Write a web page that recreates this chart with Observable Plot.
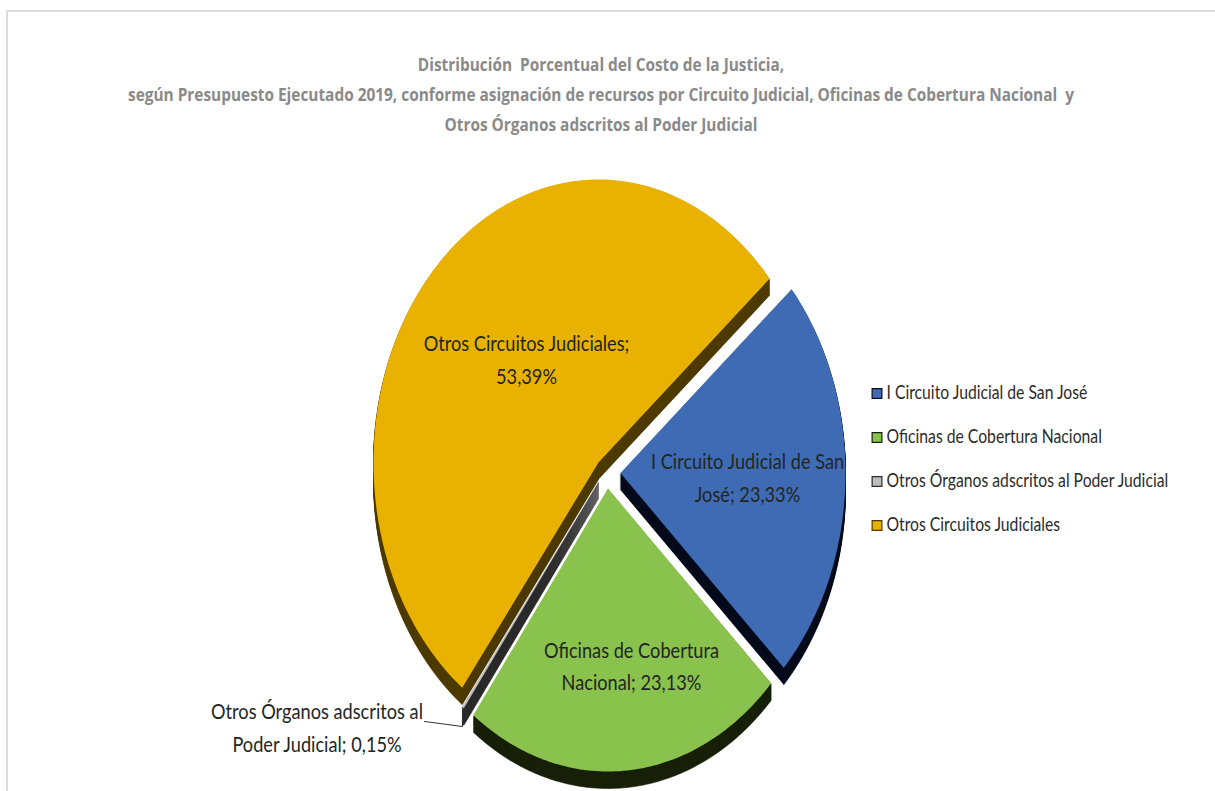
<!DOCTYPE html>
<html lang="es">
<head>
<meta charset="utf-8">
<script src="https://cdn.jsdelivr.net/npm/d3@7"></script>
<script src="https://cdn.jsdelivr.net/npm/@observablehq/plot@0.6"></script>
<style>
  html, body { margin: 0; padding: 0; background: #fff; overflow: hidden; }
  #frame { position: absolute; left: 6px; top: 10px; right: -4px; bottom: -4px;
           border: 2px solid #dcdcdc; pointer-events: none; }
  #title { height: 140px; box-sizing: border-box; padding-top: 49px; width: 1202px;
           text-align: center; font: 700 18px/30px "Open Sans", sans-serif; color: #8a8a8a; white-space: pre;
           transform: scaleX(0.855); }
  #chart svg { display: block; }
</style>
</head>
<body>
<div id="frame"></div>
<div id="title">Distribución  Porcentual del Costo de la Justicia,
según Presupuesto Ejecutado 2019, conforme asignación de recursos por Circuito Judicial, Oficinas de Cobertura Nacional  y
Otros Órganos adscritos al Poder Judicial</div>
<div id="chart"></div>
<script>
// Data
const categories = ["I Circuito Judicial de San José", "Oficinas de Cobertura Nacional",
  "Otros Órganos adscritos al Poder Judicial", "Otros Circuitos Judiciales"];
const shares = [23.33, 23.13, 0.15, 53.39];
const labels = ["I Circuito Judicial de San\nJosé; 23,33%", "Oficinas de Cobertura\nNacional; 23,13%",
  "Otros Órganos adscritos al\nPoder Judicial; 0,15%", "Otros Circuitos Judiciales;\n53,39%"];

// Styling and layout of the exploded, tilted pie
const faceColors = ["#3f6bb5", "#8ac24e", "#bdbdbd", "#eab200"];
const wallColors = ["#050b1a", "#182009", "#2b2b2b", "#4d3b00"];
const centersX = [620, 607.5, 598, 598];
const centersY = [472.5, 488, 481, 462];
const radiusX = 225, radiusY = 283, depth = 17, firstAngle = 49.5;
const labelX = [747, 631, 316.5, 526];
const labelY = [474.5, 663, 724.5, 356.5];
const legendY = [393, 437, 481, 525];
const leaderX = [424, 462, 462];
const leaderY = [721, 726, 710];
const labelWidthTarget = 212, legendWidthTarget = 282; // width of the longest text of each group

// Slice outlines derived from the shares
const total = d3.sum(shares);
const outline = (i, from, to, dy) => {
  const pts = [[centersX[i], centersY[i] + dy]];
  const n = Math.max(2, Math.ceil(to - from));
  for (let k = 0; k <= n; ++k) {
    const a = (from + (to - from) * k / n) * Math.PI / 180;
    pts.push([centersX[i] + radiusX * Math.sin(a), centersY[i] - radiusY * Math.cos(a) + dy]);
  }
  return pts;
};
let cursor = firstAngle;
const spans = shares.map(s => { const from = cursor; cursor += s / total * 360; return [from, cursor]; });
const wallRows = [], faceRows = [];
categories.forEach((c, i) => {
  for (let dy = depth; dy >= 1; --dy)
    outline(i, spans[i][0], spans[i][1], dy).forEach(([x, y]) => wallRows.push({x, y, key: c + dy, color: wallColors[i]}));
  outline(i, spans[i][0], spans[i][1], 0).forEach(([x, y]) => faceRows.push({x, y, key: c, color: faceColors[i]}));
});
const legendRows = categories.map((c, i) => ({c, y: legendY[i], fill: faceColors[i], stroke: wallColors[i]}));
const labelRows = labels.map((t, i) => ({t, x: labelX[i], y: labelY[i]}));
const leaderRows = leaderX.map((x, i) => ({x, y: leaderY[i]}));

const font = 'Lato, "Liberation Sans", sans-serif';
const plot = Plot.plot({
  width: 1215, height: 651,
  margin: 0,
  x: {domain: [0, 1215], range: [0, 1215], axis: null},
  y: {domain: [140, 791], range: [0, 651], axis: null},
  color: {type: "identity"},
  marks: [
    Plot.line(wallRows, {x: "x", y: "y", z: "key", fill: "color", stroke: "color", strokeWidth: 0.6}),
    Plot.line(faceRows, {x: "x", y: "y", z: "key", fill: "color", stroke: "none"}),
    Plot.line(leaderRows, {x: "x", y: "y", stroke: "#333", strokeWidth: 1}),
    Plot.text(labelRows, {x: "x", y: "y", text: "t", lineHeight: 1.6, fontSize: 20.5,
      fontFamily: font, fill: "#22261e", textAnchor: "middle"}),
    Plot.dot(legendRows, {x: () => 876.5, y: "y", symbol: "square", r: 5.5, fill: "fill", stroke: "stroke", strokeWidth: 1.2}),
    Plot.text(legendRows, {x: () => 886, y: "y", text: "c", fontSize: 18.5,
      fontFamily: font, fill: "#2b2b2b", textAnchor: "start"})
  ]
});
document.getElementById("chart").append(plot);

// Condense the text horizontally so that it has the reference's narrow proportions
const narrow = (group, target) => {
  const texts = [...group.querySelectorAll("text")];
  const widest = d3.max(texts, t => t.getBBox().width);
  const k = target / widest;
  texts.forEach(t => t.setAttribute("transform", `${t.getAttribute("transform") || ""} scale(${k},1)`));
};
const groups = plot.querySelectorAll('g[aria-label="text"]');
narrow(groups[0], labelWidthTarget);
narrow(groups[1], legendWidthTarget);
</script>
</body>
</html>
